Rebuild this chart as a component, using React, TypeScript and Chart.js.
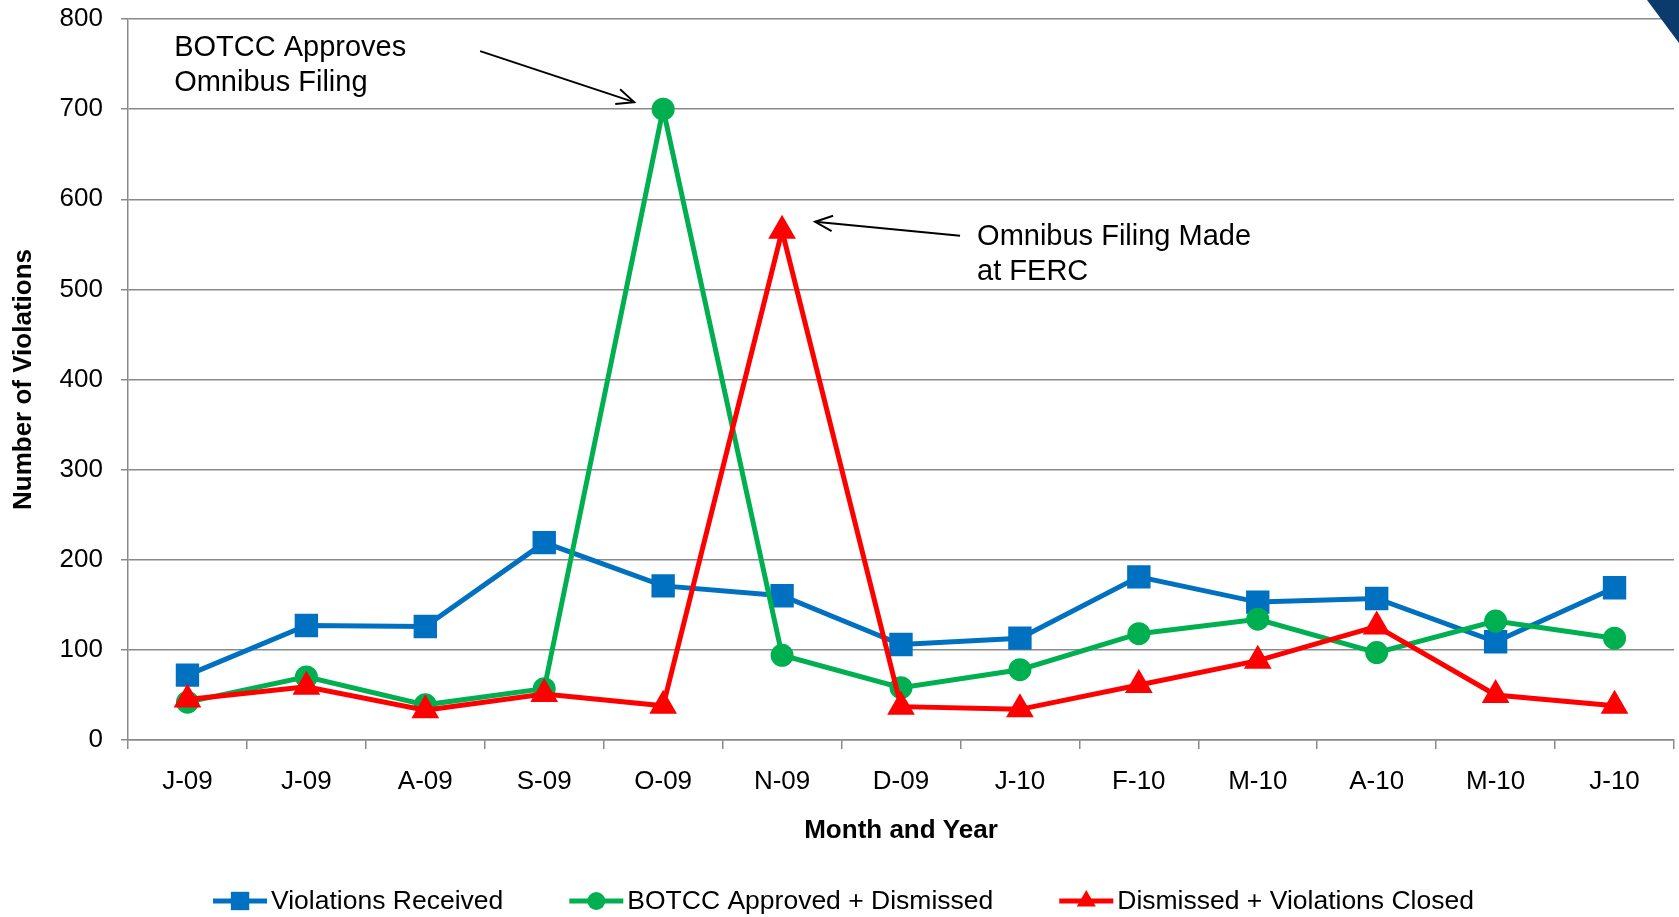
import React, { useEffect, useRef } from "react";
import { Chart, registerables } from "chart.js";

Chart.register(...registerables);

const categories = ["J-09", "J-09", "A-09", "S-09", "O-09", "N-09", "D-09", "J-10", "F-10", "M-10", "A-10", "M-10", "J-10"];
const violationsReceived = [72, 127, 126, 219, 171, 160, 106, 113, 181, 153, 157, 109, 169];
const botccApprovedDismissed = [42, 70, 39, 57, 700, 94, 58, 78, 118, 134, 97, 132, 113];
const dismissedClosed = [45, 59, 33, 51, 38, 565, 37, 34, 61, 88, 126, 50, 38];
const seriesNames = ["Violations Received", "BOTCC Approved + Dismissed", "Dismissed + Violations Closed"];
const seriesColors = ["#0070C0", "#00B050", "#FF0000"];
const yMin = 0;
const yMax = 800;
const yStep = 100;
const xTitle = "Month and Year";
const yTitle = "Number of Violations";
const note1 = ["BOTCC Approves", "Omnibus Filing"];
const note2 = ["Omnibus Filing Made", "at FERC"];

const FONT = '"Liberation Sans", Arial, sans-serif';
const W = 1679;
const H = 917;

function drawMarker(ctx: CanvasRenderingContext2D, style: string, x: number, y: number, r: number, color: string) {
  ctx.save();
  ctx.fillStyle = color;
  ctx.beginPath();
  if (style === "rect") {
    const s = Math.SQRT1_2 * r;
    ctx.rect(x - s, y - s, 2 * s, 2 * s);
  } else if (style === "circle") {
    ctx.arc(x, y, r, 0, Math.PI * 2);
  } else {
    ctx.moveTo(x, y - r);
    ctx.lineTo(x + r * Math.sin((2 * Math.PI) / 3), y - r * Math.cos((2 * Math.PI) / 3));
    ctx.lineTo(x + r * Math.sin((4 * Math.PI) / 3), y - r * Math.cos((4 * Math.PI) / 3));
    ctx.closePath();
  }
  ctx.fill();
  ctx.restore();
}

function drawArrow(ctx: CanvasRenderingContext2D, x1: number, y1: number, x2: number, y2: number) {
  ctx.beginPath();
  ctx.moveTo(x1, y1);
  ctx.lineTo(x2, y2);
  ctx.stroke();
  const ang = Math.atan2(y2 - y1, x2 - x1);
  const L = 19;
  const a = 0.42;
  ctx.beginPath();
  ctx.moveTo(x2 - L * Math.cos(ang - a), y2 - L * Math.sin(ang - a));
  ctx.lineTo(x2, y2);
  ctx.lineTo(x2 - L * Math.cos(ang + a), y2 - L * Math.sin(ang + a));
  ctx.stroke();
}

const decorPlugin = {
  id: "decor",
  afterDraw(chart: any) {
    const ctx: CanvasRenderingContext2D = chart.ctx;
    ctx.save();
    // corner triangle
    ctx.fillStyle = "#0a3b6c";
    ctx.beginPath();
    ctx.moveTo(chart.width - 32, 0);
    ctx.lineTo(chart.width, 0);
    ctx.lineTo(chart.width, 43);
    ctx.closePath();
    ctx.fill();

    // annotations
    ctx.strokeStyle = "#000";
    ctx.lineWidth = 2;
    ctx.fillStyle = "#000";
    ctx.font = `29px ${FONT}`;
    ctx.textBaseline = "middle";
    ctx.textAlign = "left";
    const p1 = chart.getDatasetMeta(1).data[4];
    if (p1) {
      drawArrow(ctx, p1.x - 183, p1.y - 58, p1.x - 29, p1.y - 7);
      ctx.fillText(note1[0], p1.x - 489, p1.y - 61);
      ctx.fillText(note1[1], p1.x - 489, p1.y - 26);
    }
    const p2 = chart.getDatasetMeta(2).data[5];
    if (p2) {
      drawArrow(ctx, p2.x + 178, p2.y + 5, p2.x + 33, p2.y - 9);
      ctx.fillText(note2[0], p2.x + 195, p2.y + 6);
      ctx.fillText(note2[1], p2.x + 195, p2.y + 41);
    }

    // legend
    ctx.font = `26.5px ${FONT}`;
    const lineW = 54;
    const textGap = 4;
    const itemGap = 66;
    const ds = chart.data.datasets;
    const widths = ds.map((d: any) => lineW + textGap + ctx.measureText(d.label).width);
    const total = widths.reduce((a: number, b: number) => a + b, 0) + itemGap * (ds.length - 1);
    let x = chart.width / 2 - total / 2 + 4;
    const y = chart.height - 16;
    ds.forEach((d: any, i: number) => {
      ctx.strokeStyle = d.borderColor;
      ctx.lineWidth = 5;
      ctx.beginPath();
      ctx.moveTo(x, y);
      ctx.lineTo(x + lineW, y);
      ctx.stroke();
      drawMarker(ctx, d.pointStyle, x + lineW / 2, y, d.pointRadius, d.borderColor);
      ctx.fillStyle = "#000";
      ctx.fillText(d.label, x + lineW + textGap, y + 1);
      x += widths[i] + itemGap;
    });
    ctx.restore();
  },
};

export default function App() {
  const ref = useRef<HTMLCanvasElement | null>(null);
  useEffect(() => {
    if (!ref.current) return;
    Chart.defaults.font.family = FONT;
    const gridColor = "#8a8a8a";
    const chart = new Chart(ref.current, {
      type: "line",
      data: {
        labels: categories,
        datasets: [
          {
            label: seriesNames[0],
            data: violationsReceived,
            borderColor: seriesColors[0],
            backgroundColor: seriesColors[0],
            pointBackgroundColor: seriesColors[0],
            pointBorderColor: seriesColors[0],
            pointStyle: "rect",
            pointRadius: 13,
            borderWidth: 5,
            tension: 0,
            order: 3,
            clip: false,
          } as any,
          {
            label: seriesNames[1],
            data: botccApprovedDismissed,
            borderColor: seriesColors[1],
            backgroundColor: seriesColors[1],
            pointBackgroundColor: seriesColors[1],
            pointBorderColor: seriesColors[1],
            pointStyle: "circle",
            pointRadius: 9,
            borderWidth: 5,
            tension: 0,
            order: 2,
            clip: false,
          },
          {
            label: seriesNames[2],
            data: dismissedClosed,
            borderColor: seriesColors[2],
            backgroundColor: seriesColors[2],
            pointBackgroundColor: seriesColors[2],
            pointBorderColor: seriesColors[2],
            pointStyle: "triangle",
            pointRadius: 11,
            borderWidth: 5,
            tension: 0,
            order: 1,
            clip: false,
          },
        ],
      },
      options: {
        animation: false,
        responsive: false,
        layout: { autoPadding: false, padding: { left: 0, right: 5, top: 19, bottom: 0 } },
        plugins: { legend: { display: false }, tooltip: { enabled: false } },
        scales: {
          x: {
            type: "category",
            offset: true,
            grid: {
              offset: true,
              drawOnChartArea: false,
              drawTicks: true,
              tickLength: 9,
              color: gridColor,
              lineWidth: 1.5,
            },
            border: { display: true, color: gridColor, width: 1.5 },
            ticks: { color: "#000", font: { size: 26, family: FONT }, padding: 17, autoSkip: false, maxRotation: 0 },
            title: {
              display: true,
              text: xTitle,
              color: "#000",
              font: { size: 26, weight: "bold", family: FONT },
              padding: { top: 0, bottom: 71 },
            },
            afterFit: (s: any) => {
              s.height = 177;
              s.paddingLeft = 0;
              s.paddingRight = 0;
            },
          },
          y: {
            min: yMin,
            max: yMax,
            ticks: { stepSize: yStep, color: "#000", font: { size: 26, family: FONT }, padding: 18 },
            grid: { color: gridColor, lineWidth: 1.5, drawTicks: true, tickLength: 7 },
            border: { display: true, color: gridColor, width: 1.5 },
            title: {
              display: true,
              text: yTitle,
              color: "#000",
              font: { size: 26, weight: "bold", family: FONT },
              padding: { top: 8, bottom: 0 },
            },
            afterFit: (s: any) => {
              s.width = 128;
              s.paddingTop = 0;
              s.paddingBottom = 0;
            },
          },
        },
      },
      plugins: [decorPlugin],
    });
    return () => chart.destroy();
  }, []);

  return (
    <div style={{ position: "fixed", left: 0, top: 0, width: W, height: H, background: "#fff" }}>
      <canvas ref={ref} width={W} height={H} style={{ display: "block", width: W, height: H }} />
    </div>
  );
}
